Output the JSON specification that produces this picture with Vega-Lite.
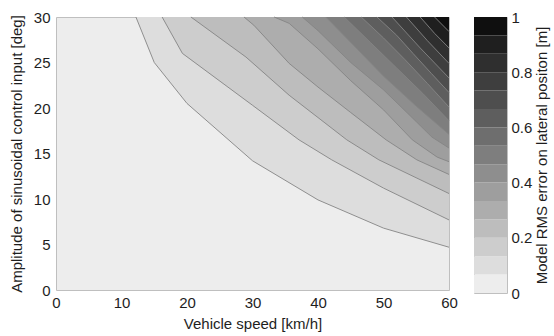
{
  "$schema": "https://vega.github.io/schema/vega-lite/v6.json",
  "background": "white",
  "padding": {"left": 8, "top": 9, "right": 2, "bottom": 0},
  "bounds": "flush",
  "spacing": 25,
  "config": {
    "font": "Liberation Sans",
    "view": {"stroke": "#bfbfbf", "strokeWidth": 1},
    "axis": {
      "labelFont": "Liberation Sans",
      "labelFontSize": 15,
      "labelColor": "#1e1e1e",
      "titleFont": "Liberation Sans",
      "titleFontSize": 15,
      "titleFontWeight": "normal",
      "titleColor": "#1e1e1e",
      "ticks": false,
      "domain": false,
      "grid": false,
      "labelFlush": false
    }
  },
  "datasets": {
    "contours": [
      {"level": 1, "speed": 12.2, "amplitude": 30},
      {"level": 1, "speed": 15, "amplitude": 25},
      {"level": 1, "speed": 20, "amplitude": 20.5},
      {"level": 1, "speed": 30, "amplitude": 14.2},
      {"level": 1, "speed": 40, "amplitude": 9.9},
      {"level": 1, "speed": 50, "amplitude": 6.8},
      {"level": 1, "speed": 60, "amplitude": 4.7},
      {"level": 2, "speed": 16.2, "amplitude": 30},
      {"level": 2, "speed": 19.3, "amplitude": 26},
      {"level": 2, "speed": 30, "amplitude": 20.3},
      {"level": 2, "speed": 37.1, "amplitude": 16.5},
      {"level": 2, "speed": 42.1, "amplitude": 14.3},
      {"level": 2, "speed": 50, "amplitude": 11.2},
      {"level": 2, "speed": 60, "amplitude": 7.7},
      {"level": 3, "speed": 20.6, "amplitude": 30},
      {"level": 3, "speed": 29, "amplitude": 25.6},
      {"level": 3, "speed": 35.6, "amplitude": 21.4},
      {"level": 3, "speed": 44.4, "amplitude": 16.5},
      {"level": 3, "speed": 49.3, "amplitude": 14.3},
      {"level": 3, "speed": 60, "amplitude": 10.6},
      {"level": 4, "speed": 28.7, "amplitude": 30},
      {"level": 4, "speed": 30.2, "amplitude": 29.1},
      {"level": 4, "speed": 35.6, "amplitude": 24.9},
      {"level": 4, "speed": 40, "amplitude": 22.3},
      {"level": 4, "speed": 45, "amplitude": 19.5},
      {"level": 4, "speed": 50.4, "amplitude": 16.5},
      {"level": 4, "speed": 55.1, "amplitude": 14.3},
      {"level": 4, "speed": 60, "amplitude": 12.7},
      {"level": 5, "speed": 33.3, "amplitude": 30},
      {"level": 5, "speed": 35.6, "amplitude": 29.3},
      {"level": 5, "speed": 40, "amplitude": 26.5},
      {"level": 5, "speed": 45, "amplitude": 23},
      {"level": 5, "speed": 50, "amplitude": 19.8},
      {"level": 5, "speed": 54.4, "amplitude": 16.5},
      {"level": 5, "speed": 58.2, "amplitude": 14.6},
      {"level": 5, "speed": 60, "amplitude": 14.1},
      {"level": 6, "speed": 37.6, "amplitude": 30},
      {"level": 6, "speed": 40, "amplitude": 28.5},
      {"level": 6, "speed": 45, "amplitude": 25},
      {"level": 6, "speed": 50, "amplitude": 22},
      {"level": 6, "speed": 55, "amplitude": 18.5},
      {"level": 6, "speed": 57.4, "amplitude": 16.8},
      {"level": 6, "speed": 60, "amplitude": 15.6},
      {"level": 7, "speed": 41.2, "amplitude": 30},
      {"level": 7, "speed": 45, "amplitude": 27.2},
      {"level": 7, "speed": 50, "amplitude": 23.5},
      {"level": 7, "speed": 55, "amplitude": 20.2},
      {"level": 7, "speed": 60, "amplitude": 17.1},
      {"level": 8, "speed": 44.0, "amplitude": 30},
      {"level": 8, "speed": 48, "amplitude": 27.2},
      {"level": 8, "speed": 52, "amplitude": 24.4},
      {"level": 8, "speed": 56, "amplitude": 21.6},
      {"level": 8, "speed": 60, "amplitude": 18.6},
      {"level": 9, "speed": 46.6, "amplitude": 30},
      {"level": 9, "speed": 50, "amplitude": 27.7},
      {"level": 9, "speed": 53.3, "amplitude": 25.3},
      {"level": 9, "speed": 56.7, "amplitude": 22.7},
      {"level": 9, "speed": 60, "amplitude": 20.1},
      {"level": 10, "speed": 49, "amplitude": 30},
      {"level": 10, "speed": 52, "amplitude": 28},
      {"level": 10, "speed": 54.5, "amplitude": 26.0},
      {"level": 10, "speed": 57.3, "amplitude": 23.8},
      {"level": 10, "speed": 60, "amplitude": 21.7},
      {"level": 11, "speed": 51.3, "amplitude": 30},
      {"level": 11, "speed": 55.6, "amplitude": 26.6},
      {"level": 11, "speed": 60, "amplitude": 23.3},
      {"level": 12, "speed": 53.5, "amplitude": 30},
      {"level": 12, "speed": 56.7, "amplitude": 27.4},
      {"level": 12, "speed": 60, "amplitude": 24.9},
      {"level": 13, "speed": 55.6, "amplitude": 30},
      {"level": 13, "speed": 57.8, "amplitude": 28.2},
      {"level": 13, "speed": 60, "amplitude": 26.6},
      {"level": 14, "speed": 57.8, "amplitude": 30},
      {"level": 14, "speed": 60, "amplitude": 28.4}
    ],
    "cbar": [
      {"level": 0, "lo": 0, "hi": 0.0667},
      {"level": 1, "lo": 0.0667, "hi": 0.1333},
      {"level": 2, "lo": 0.1333, "hi": 0.2},
      {"level": 3, "lo": 0.2, "hi": 0.2667},
      {"level": 4, "lo": 0.2667, "hi": 0.3333},
      {"level": 5, "lo": 0.3333, "hi": 0.4},
      {"level": 6, "lo": 0.4, "hi": 0.4667},
      {"level": 7, "lo": 0.4667, "hi": 0.5333},
      {"level": 8, "lo": 0.5333, "hi": 0.6},
      {"level": 9, "lo": 0.6, "hi": 0.6667},
      {"level": 10, "lo": 0.6667, "hi": 0.7333},
      {"level": 11, "lo": 0.7333, "hi": 0.8},
      {"level": 12, "lo": 0.8, "hi": 0.8667},
      {"level": 13, "lo": 0.8667, "hi": 0.9333},
      {"level": 14, "lo": 0.9333, "hi": 1}
    ]
  },
  "hconcat": [
    {
      "width": 393,
      "height": 273,
      "view": {"fill": "#ededed", "stroke": "#bfbfbf"},
      "layer": [
        {
          "data": {"name": "contours"},
          "mark": {"type": "area", "interpolate": "linear"},
          "encoding": {
            "x": {"field": "speed", "type": "quantitative", "scale": {"domain": [0, 60], "nice": false, "zero": false},
              "axis": {"values": [0, 10, 20, 30, 40, 50, 60], "labelPadding": 5, "titlePadding": 6, "title": "Vehicle speed [km/h]"}},
            "y": {"field": "amplitude", "type": "quantitative", "stack": null, "scale": {"domain": [0, 30], "nice": false, "zero": false},
              "axis": {"values": [0, 5, 10, 15, 20, 25, 30], "labelPadding": 6, "titlePadding": 9, "title": "Amplitude of sinusoidal control input [deg]"}},
            "y2": {"datum": 30},
            "color": {"field": "level", "type": "ordinal",
              "scale": {"domain": [0,1,2,3,4,5,6,7,8,9,10,11,12,13,14],
                "range": ["#ededed","#dddddd","#cdcdcd","#bdbdbd","#adadad","#9e9e9e","#8e8e8e","#7e7e7e","#6e6e6e","#5e5e5e","#4e4e4e","#3e3e3e","#2f2f2f","#1f1f1f","#0f0f0f"]},
              "legend": null}
          }
        },
        {
          "data": {"name": "contours"},
          "mark": {"type": "line", "color": "#858585", "strokeWidth": 0.9},
          "encoding": {
            "x": {"field": "speed", "type": "quantitative"},
            "y": {"field": "amplitude", "type": "quantitative"},
            "detail": {"field": "level", "type": "nominal"}
          }
        }
      ]
    },
    {
      "width": 33,
      "height": 276,
      "view": {"stroke": "#bfbfbf"},
      "data": {"name": "cbar"},
      "mark": {"type": "rect"},
      "encoding": {
        "y": {"field": "lo", "type": "quantitative", "scale": {"domain": [0, 1], "nice": false, "zero": false},
          "axis": {"orient": "right", "values": [0, 0.2, 0.4, 0.6, 0.8, 1], "format": "~g", "labelPadding": 4, "titlePadding": 3,
            "title": "Model RMS error on lateral positon [m]", "titleAngle": 270, "titleBaseline": "top"}},
        "y2": {"field": "hi"},
        "color": {"field": "level", "type": "ordinal",
          "scale": {"domain": [0,1,2,3,4,5,6,7,8,9,10,11,12,13,14],
            "range": ["#ededed","#dddddd","#cdcdcd","#bdbdbd","#adadad","#9e9e9e","#8e8e8e","#7e7e7e","#6e6e6e","#5e5e5e","#4e4e4e","#3e3e3e","#2f2f2f","#1f1f1f","#0f0f0f"]},
          "legend": null}
      }
    }
  ]
}
